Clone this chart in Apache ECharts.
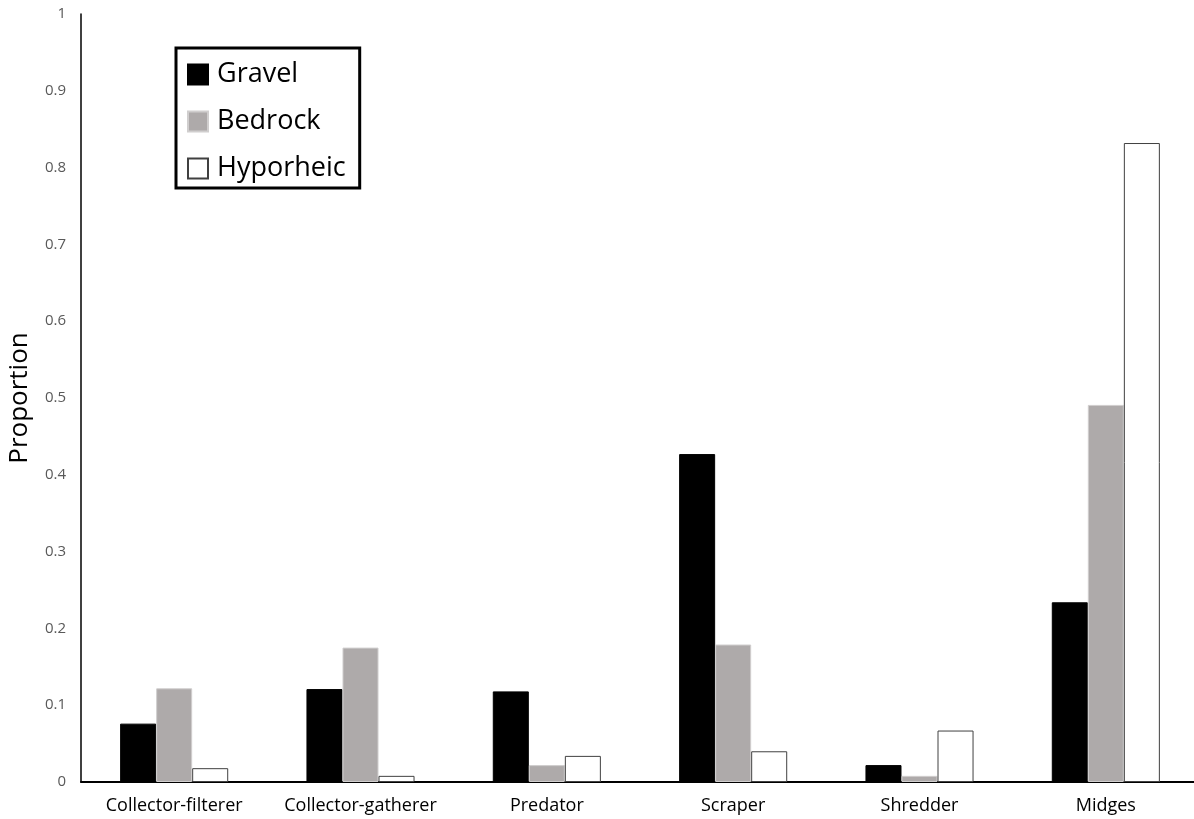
<!DOCTYPE html>
<html>
<head>
<meta charset="utf-8">
<script src="https://cdn.jsdelivr.net/npm/echarts@6/dist/echarts.min.js"></script>
<style>
html,body{margin:0;padding:0;background:#fff;}
#main{width:1194px;height:819px;}
</style>
</head>
<body>
<div id="main"></div>
<script>
var categories = ['Collector-filterer', 'Collector-gatherer', 'Predator', 'Scraper', 'Shredder', 'Midges'];
var gravel = [0.076, 0.121, 0.118, 0.427, 0.022, 0.234];
var bedrock = [0.122, 0.175, 0.022, 0.179, 0.008, 0.491];
var hyporheic = [0.018, 0.008, 0.034, 0.040, 0.067, 0.832];
var yTicks = [0, 0.1, 0.2, 0.3, 0.4, 0.5, 0.6, 0.7, 0.8, 0.9, 1];

var FONT = 'Open Sans';
var chart = echarts.init(document.getElementById('main'));
chart.setOption({
  animation: false,
  backgroundColor: '#fff',
  textStyle: { fontFamily: FONT },
  grid: { left: 81, right: -5, top: 14, bottom: 37, containLabel: false, outerBoundsMode: 'none' },
  legend: {
    orient: 'vertical',
    left: 176,
    top: 48,
    padding: [13, 14, 6, 11],
    itemWidth: 20,
    itemHeight: 20,
    itemGap: 20,
    icon: 'rect',
    borderColor: '#000',
    borderWidth: 3,
    textStyle: { fontSize: 27, color: '#000', fontFamily: FONT, padding: [0, 0, 0, 4] },
    data: ['Gravel', 'Bedrock', 'Hyporheic']
  },
  xAxis: {
    type: 'category',
    data: categories,
    axisLine: { lineStyle: { color: '#000', width: 2 } },
    axisTick: { show: false },
    axisLabel: { color: '#000', fontSize: 18, margin: 15, interval: 0, fontFamily: FONT }
  },
  yAxis: {
    type: 'value',
    min: 0,
    max: 1,
    interval: 0.1,
    name: 'Proportion',
    nameLocation: 'middle',
    nameGap: 48,
    nameRotate: 90,
    nameTextStyle: { fontSize: 26, color: '#000', fontFamily: FONT },
    axisLine: { show: true, lineStyle: { color: '#000', width: 1.5 } },
    axisTick: { show: false },
    splitLine: { show: false },
    axisLabel: {
      color: '#595959', fontSize: 15, margin: 15, fontFamily: FONT,
      formatter: function (v) {
        var t = yTicks.find(function (x) { return Math.abs(x - v) < 1e-9; });
        return t === undefined ? '' : String(t);
      }
    }
  },
  series: [
    {
      name: 'Gravel', type: 'bar', data: gravel, barGap: '0%', barCategoryGap: '42%',
      itemStyle: { color: '#000', borderColor: '#000', borderWidth: 1 }
    },
    {
      name: 'Bedrock', type: 'bar', data: bedrock, barGap: '0%', barCategoryGap: '42%',
      itemStyle: { color: '#AEAAAA', borderColor: '#D0CECE', borderWidth: 1 }
    },
    {
      name: 'Hyporheic', type: 'bar', data: hyporheic, barGap: '0%', barCategoryGap: '42%',
      itemStyle: { color: '#fff', borderColor: '#404040', borderWidth: 1 }
    }
  ]
});
</script>
</body>
</html>
